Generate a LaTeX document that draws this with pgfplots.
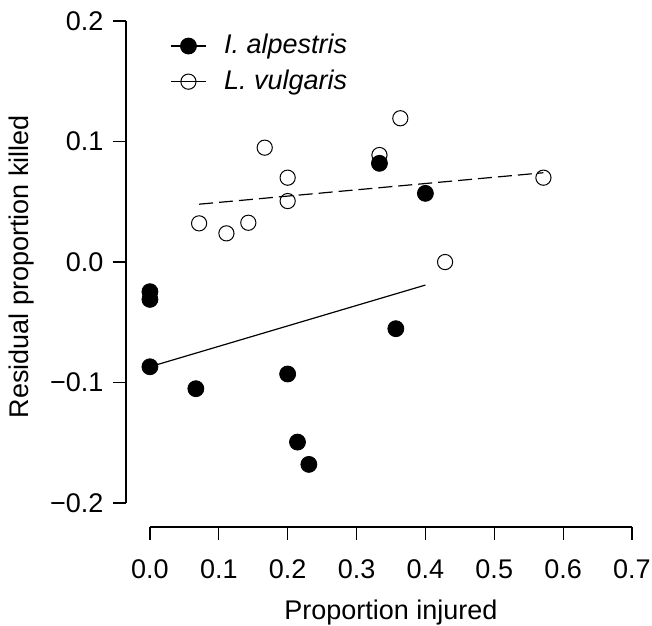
\documentclass[border=0pt]{standalone}
\usepackage{fontspec}
\setmainfont{Liberation Sans}
\usepackage{pgfplots}
\pgfplotsset{compat=1.18}
\pgfplotsset{linemark legend/.style={legend image code/.code={\draw[solid,black,line width=0.6pt] (0cm,0cm) -- (0.6cm,0cm); \draw[##1,mark repeat=2,mark phase=2] plot coordinates {(0cm,0cm)(0.3cm,0cm)(0.6cm,0cm)};}}}
\begin{document}
\fontsize{13.5}{16}\selectfont
\begin{tikzpicture}
\begin{axis}[
  scale only axis, width=241pt, height=241pt,
  xmin=0, xmax=0.7, ymin=-0.2, ymax=0.2,
  axis lines=left,
  axis line style={-, line width=0.6pt},
  axis x line shift=12pt,
  axis y line shift=12pt,
  tick align=outside,
  major tick length=6.5pt,
  tick style={line width=0.6pt, black},
  xtick={0,0.1,0.2,0.3,0.4,0.5,0.6,0.7},
  xticklabels={0.0,0.1,0.2,0.3,0.4,0.5,0.6,0.7},
  xticklabel style={yshift=-5pt},
  ytick={-0.2,-0.1,0,0.1,0.2},
  yticklabels={−0.2,−0.1,0.0,0.1,0.2},
  xlabel={Proportion injured},
  ylabel={Residual proportion killed},
  xlabel style={at={(axis description cs:0.5,-0.228)}, anchor=center},
  ylabel style={at={(axis description cs:-0.2656,0.49)}, anchor=center},
  clip=false,
  legend style={draw=none, fill=none, at={(rel axis cs:0.03,0.99)}, anchor=north west, font=\itshape, row sep=2pt, column sep=7pt},
  legend cell align=left,
]
\addplot[only marks, mark=*, mark size=4pt, black, mark options={fill=black}, linemark legend]
  coordinates {
  (0,-0.0246) (0,-0.031) (0,-0.0869) (0.0667,-0.1051) (0.2,-0.0929)
  (0.3571,-0.0553) (0.2143,-0.1494) (0.2308,-0.1679) (0.3333,0.0819) (0.4,0.0570)
  };
\addlegendentry{I. alpestris}
\addplot[only marks, mark=o, mark size=3.8pt, black, mark options={line width=0.5pt}, linemark legend]
  coordinates {
  (0.3636,0.1193) (0.1667,0.0949) (0.3333,0.0888) (0.2,0.0700) (0.5714,0.0700)
  (0.2,0.0506) (0.0714,0.0321) (0.1111,0.0238) (0.1429,0.0326) (0.4286,0.0)
  };
\addlegendentry{L. vulgaris}
\addplot[black, line width=0.6pt, forget plot] coordinates {(0,-0.0869) (0.4,-0.0191)};
\addplot[black, line width=0.6pt, dash pattern=on 7pt off 3pt, forget plot] coordinates {(0.0714,0.0480) (0.5714,0.0741)};
\coordinate (bbsw) at (rel axis cs:-0.311,-0.253);
\coordinate (bbne) at (rel axis cs:1.0415,1.0436);
\end{axis}
\pgfresetboundingbox
\path (bbsw) rectangle (bbne);
\end{tikzpicture}
\end{document}
